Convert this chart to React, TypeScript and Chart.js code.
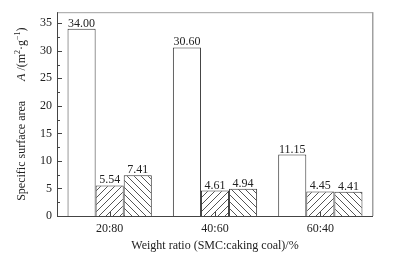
import { useEffect, useRef } from 'react';
import { Chart, registerables } from 'chart.js';

Chart.register(...registerables);

const categories = ['20:80', '40:60', '60:40'];
const seriesA = [34.0, 30.6, 11.15];
const seriesB = [5.54, 4.61, 4.45];
const seriesC = [7.41, 4.94, 4.41];
const yMin = 0;
const yMax = 37;
const yMajorStep = 5;
const yMinorStep = 2.5;
const yTickTop = 35;
const xTitle = 'Weight ratio (SMC:caking coal)/%';

const FONT = "'Liberation Serif', 'Times New Roman', serif";

function makeHatch(forward: boolean) {
  const s = 7;
  const c = document.createElement('canvas');
  c.width = s;
  c.height = s;
  const g = c.getContext('2d')!;
  g.fillStyle = '#ffffff';
  g.fillRect(0, 0, s, s);
  g.strokeStyle = '#555555';
  g.lineWidth = 1;
  g.beginPath();
  if (forward) {
    g.moveTo(-1, s + 1);
    g.lineTo(s + 1, -1);
    g.moveTo(-1, 1);
    g.lineTo(1, -1);
    g.moveTo(s - 1, s + 1);
    g.lineTo(s + 1, s - 1);
  } else {
    g.moveTo(-1, -1);
    g.lineTo(s + 1, s + 1);
    g.moveTo(s - 1, -1);
    g.lineTo(s + 1, 1);
    g.moveTo(-1, s - 1);
    g.lineTo(1, s + 1);
  }
  g.stroke();
  return g.createPattern(c, 'repeat')!;
}

const decorPlugin = {
  id: 'decor',
  afterDatasetsDraw(chart: any) {
    const { ctx, chartArea } = chart;
    const { left, right, top, bottom } = chartArea;
    const ys = chart.scales.y;
    const xs = chart.scales.x;
    ctx.save();

    // frame
    ctx.lineWidth = 1;
    ctx.strokeStyle = '#a0a0a0';
    ctx.beginPath();
    ctx.moveTo(left, top + 0.5);
    ctx.lineTo(right, top + 0.5);
    ctx.moveTo(right - 0.5, top);
    ctx.lineTo(right - 0.5, bottom);
    ctx.stroke();
    ctx.strokeStyle = '#d0d0d0';
    ctx.beginPath();
    ctx.moveTo(right + 0.5, top);
    ctx.lineTo(right + 0.5, bottom);
    ctx.stroke();
    ctx.strokeStyle = '#444444';
    ctx.beginPath();
    ctx.moveTo(left + 0.5, top);
    ctx.lineTo(left + 0.5, bottom);
    ctx.moveTo(left, bottom + 0.5);
    ctx.lineTo(right, bottom + 0.5);
    ctx.stroke();

    // inward y ticks
    ctx.strokeStyle = '#444444';
    ctx.beginPath();
    for (let v = yMin; v <= yTickTop + 1e-9; v += yMinorStep) {
      const y = Math.round(ys.getPixelForValue(v)) + 0.5;
      const major = Math.abs(v / yMajorStep - Math.round(v / yMajorStep)) < 1e-6;
      ctx.moveTo(left, y);
      ctx.lineTo(left + (major ? 5 : 3), y);
    }
    // inward x ticks
    for (let i = 0; i < categories.length; i++) {
      const x = Math.round(xs.getPixelForValue(i)) + 0.5;
      ctx.moveTo(x, bottom);
      ctx.lineTo(x, bottom - 4);
    }
    ctx.stroke();

    // data labels
    ctx.fillStyle = '#222222';
    ctx.font = `12px ${FONT}`;
    ctx.textAlign = 'center';
    ctx.textBaseline = 'alphabetic';
    chart.data.datasets.forEach((ds: any, di: number) => {
      const meta = chart.getDatasetMeta(di);
      meta.data.forEach((bar: any, i: number) => {
        ctx.fillText(Number(ds.data[i]).toFixed(2), bar.x, bar.y - 2);
      });
    });

    // y title
    const segs: { t: string; f: string; dy: number; gap?: number }[] = [
      { t: 'Specific surface area', f: `12px ${FONT}`, dy: 0 },
      { t: '', f: `12px ${FONT}`, dy: 0, gap: 20 },
      { t: 'A', f: `italic 12px ${FONT}`, dy: 0 },
      { t: ' /(m', f: `12px ${FONT}`, dy: 0 },
      { t: '2', f: `8px ${FONT}`, dy: -4 },
      { t: '·g', f: `12px ${FONT}`, dy: 0 },
      { t: '−1', f: `8px ${FONT}`, dy: -4 },
      { t: ')', f: `12px ${FONT}`, dy: 0 },
    ];
    let total = 0;
    const widths = segs.map((s) => {
      ctx.font = s.f;
      const w = s.gap ?? ctx.measureText(s.t).width;
      total += w;
      return w;
    });
    const cy = (top + bottom) / 2;
    ctx.translate(22, cy);
    ctx.rotate(-Math.PI / 2);
    ctx.textAlign = 'left';
    ctx.textBaseline = 'middle';
    let x = -total / 2;
    segs.forEach((s, i) => {
      ctx.font = s.f;
      if (s.t) ctx.fillText(s.t, x, s.dy);
      x += widths[i];
    });
    ctx.restore();
  },
};

export default function App() {
  const ref = useRef<HTMLCanvasElement | null>(null);
  useEffect(() => {
    document.body.style.margin = '0';
    const canvas = ref.current!;
    const chart = new Chart(canvas, {
      type: 'bar',
      data: {
        labels: categories,
        datasets: [
          {
            label: 'A',
            data: seriesA,
            backgroundColor: '#ffffff',
            borderColor: '#333333',
            borderWidth: 1,
          },
          {
            label: 'B',
            data: seriesB,
            backgroundColor: makeHatch(true) as any,
            borderColor: '#333333',
            borderWidth: 1,
          },
          {
            label: 'C',
            data: seriesC,
            backgroundColor: makeHatch(false) as any,
            borderColor: '#333333',
            borderWidth: 1,
          },
        ],
      },
      options: {
        responsive: false,
        animation: false,
        devicePixelRatio: 1,
        layout: { padding: { top: 7, right: 25, left: 0, bottom: 0 } },
        datasets: {
          bar: { categoryPercentage: 0.8, barPercentage: 1.0 },
        },
        plugins: {
          legend: { display: false },
          tooltip: { enabled: false },
        },
        scales: {
          x: {
            grid: { display: false, drawTicks: false },
            border: { display: false },
            ticks: {
              color: '#222222',
              padding: 6,
              font: { family: FONT, size: 12 },
            },
            title: {
              display: true,
              text: xTitle,
              color: '#222222',
              font: { family: FONT, size: 12 },
              padding: { top: 0, bottom: 5 },
            },
            afterFit: (s: any) => {
              s.height = 42;
            },
          },
          y: {
            min: yMin,
            max: yMax,
            grid: { display: false, drawTicks: false },
            border: { display: false },
            ticks: {
              stepSize: yMajorStep,
              includeBounds: false,
              color: '#222222',
              padding: 5,
              font: { family: FONT, size: 12 },
            },
            afterFit: (s: any) => {
              s.width = 57;
            },
          },
        },
      },
      plugins: [decorPlugin],
    });
    return () => chart.destroy();
  }, []);
  return <canvas ref={ref} width={398} height={258} />;
}
